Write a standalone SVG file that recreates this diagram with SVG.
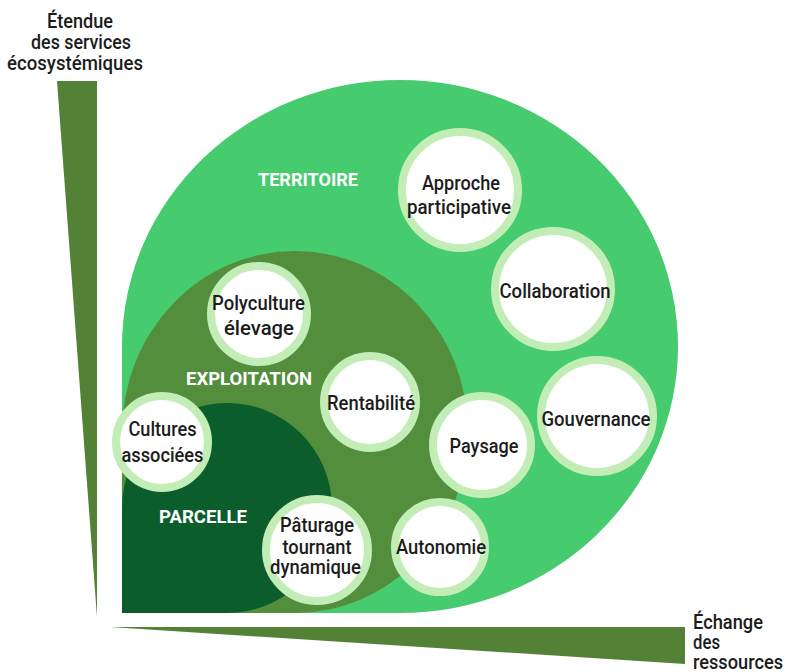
<svg xmlns="http://www.w3.org/2000/svg" width="786" height="672" viewBox="0 0 786 672">
<style>
.bar{fill:#538136}
.zone1{fill:#46cb6f}
.zone2{fill:#528e3c}
.zone3{fill:#0b5e2c}
.ring{fill:#ffffff;stroke:#c2edb7;stroke-width:8}
.t{font-family:Roboto,"Liberation Sans",sans-serif;font-size:21px;font-weight:500;fill:#1c1c1c;text-anchor:middle}
.ax{font-family:Roboto,"Liberation Sans",sans-serif;font-size:20px;font-weight:500;fill:#1c1c1c}
.z{font-family:Roboto,"Liberation Sans",sans-serif;font-size:19px;font-weight:bold;fill:#ffffff;text-anchor:middle}
</style>
<g id="axes">
<polygon class="bar" points="57,81 97,81 97,617"/>
<polygon class="bar" points="110,627 685,627 685,664"/>
<text class="ax" text-anchor="middle"><tspan x="80" y="28" textLength="66" lengthAdjust="spacingAndGlyphs">Étendue</tspan><tspan x="81" y="49" textLength="100" lengthAdjust="spacingAndGlyphs">des services</tspan><tspan x="75" y="70" textLength="136" lengthAdjust="spacingAndGlyphs">écosystémiques</tspan></text>
<text class="ax"><tspan x="693" y="629" textLength="70" lengthAdjust="spacingAndGlyphs">Échange</tspan><tspan x="693" y="649" textLength="27" lengthAdjust="spacingAndGlyphs">des</tspan><tspan x="693" y="669" textLength="90" lengthAdjust="spacingAndGlyphs">ressources</tspan></text>
</g>
<g id="territoire">
<path class="zone1" d="M122 346.5 A278 266.5 0 0 1 400 80 A278 266.5 0 0 1 678 346.5 A278 266.5 0 0 1 400 613 L122 613 Z"/>
<text class="z" x="308" y="186" textLength="100" lengthAdjust="spacingAndGlyphs">TERRITOIRE</text>
</g>
<g id="exploitation">
<path class="zone2" d="M122 432 A173 181 0 0 1 295 251 A173 181 0 0 1 468 432 A173 181 0 0 1 295 613 L122 613 Z"/>
<text class="z" x="249" y="385" textLength="126" lengthAdjust="spacingAndGlyphs">EXPLOITATION</text>
</g>
<g id="parcelle">
<path class="zone3" d="M122 508 A105 105 0 0 1 227 403 A105 105 0 0 1 332 508 A105 105 0 0 1 227 613 L122 613 Z"/>
<text class="z" x="203" y="523" textLength="88" lengthAdjust="spacingAndGlyphs">PARCELLE</text>
</g>
<g id="approche">
<circle class="ring" cx="460" cy="190" r="58"/>
<text class="t"><tspan x="461" y="190" textLength="78" lengthAdjust="spacingAndGlyphs">Approche</tspan><tspan x="459" y="214" textLength="104" lengthAdjust="spacingAndGlyphs">participative</tspan></text>
</g>
<g id="collaboration">
<circle class="ring" cx="553" cy="289" r="58"/>
<text class="t" x="555" y="298" textLength="111" lengthAdjust="spacingAndGlyphs">Collaboration</text>
</g>
<g id="gouvernance">
<circle class="ring" cx="597" cy="416" r="56"/>
<text class="t" x="596" y="426" textLength="109" lengthAdjust="spacingAndGlyphs">Gouvernance</text>
</g>
<g id="paysage">
<circle class="ring" cx="482" cy="445" r="49"/>
<text class="t" x="484" y="453" textLength="69" lengthAdjust="spacingAndGlyphs">Paysage</text>
</g>
<g id="autonomie">
<circle class="ring" cx="440" cy="547" r="45"/>
<text class="t" x="441" y="554" textLength="90" lengthAdjust="spacingAndGlyphs">Autonomie</text>
</g>
<g id="polyculture">
<circle class="ring" cx="259" cy="314" r="48"/>
<text class="t"><tspan x="258.5" y="310" textLength="93" lengthAdjust="spacingAndGlyphs">Polyculture</tspan><tspan x="259" y="335" textLength="70" lengthAdjust="spacingAndGlyphs">élevage</tspan></text>
</g>
<g id="rentabilite">
<circle class="ring" cx="370" cy="402" r="46"/>
<text class="t" x="371" y="410" textLength="88" lengthAdjust="spacingAndGlyphs">Rentabilité</text>
</g>
<g id="cultures">
<circle class="ring" cx="162" cy="442" r="46"/>
<text class="t"><tspan x="162.5" y="436" textLength="68" lengthAdjust="spacingAndGlyphs">Cultures</tspan><tspan x="162.5" y="461.5" textLength="82" lengthAdjust="spacingAndGlyphs">associées</tspan></text>
</g>
<g id="paturage">
<circle class="ring" cx="317" cy="550" r="51"/>
<text class="t"><tspan x="317" y="531.5" textLength="74" lengthAdjust="spacingAndGlyphs">Pâturage</tspan><tspan x="317" y="554" textLength="69" lengthAdjust="spacingAndGlyphs">tournant</tspan><tspan x="315.5" y="573.5" textLength="91" lengthAdjust="spacingAndGlyphs">dynamique</tspan></text>
</g>
<g id="connectors"></g>
</svg>
